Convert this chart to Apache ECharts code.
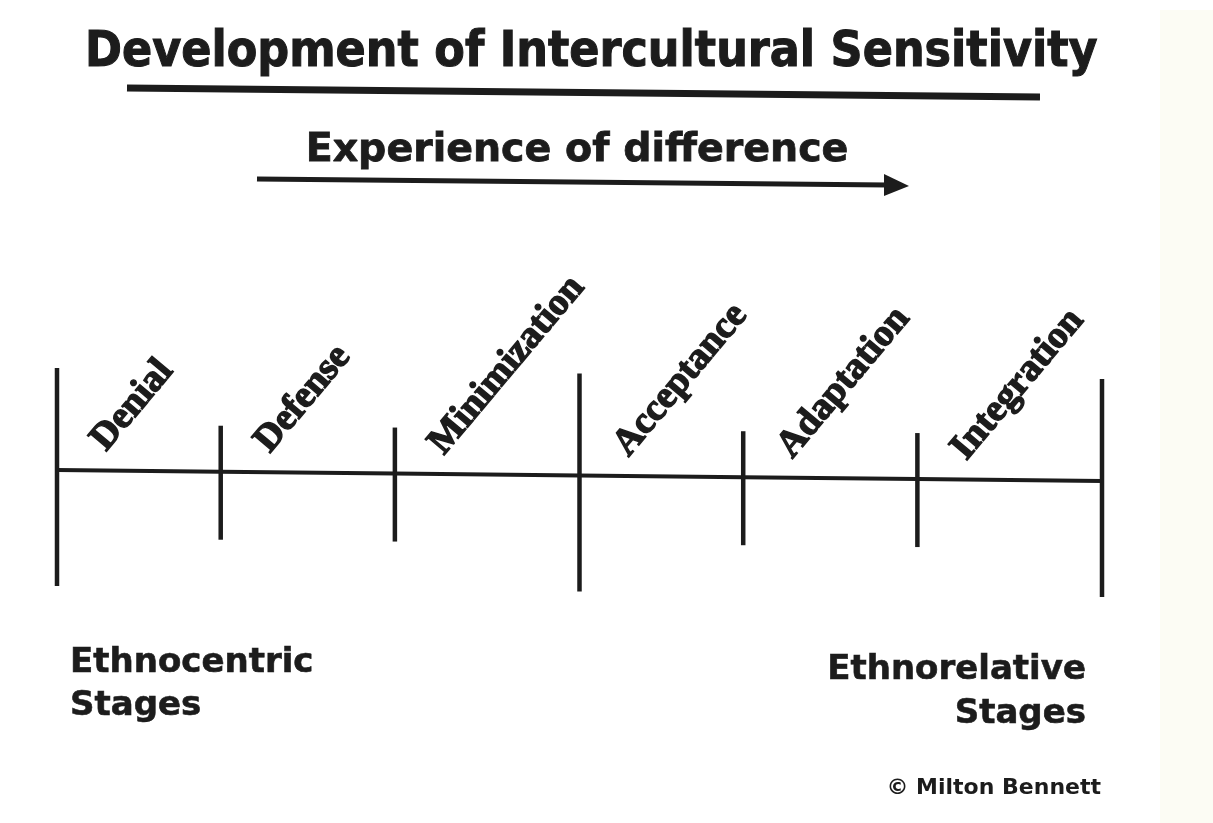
<!DOCTYPE html>
<html>
<head>
<meta charset="utf-8">
<script src="https://cdn.jsdelivr.net/npm/echarts@6/dist/echarts.min.js"></script>
<style>html,body{margin:0;padding:0;background:#fff;}#c{width:1213px;height:823px;}</style>
</head>
<body>
<div id="c"></div>
<script>
// ---- data ----
var stages = ['Denial', 'Defense', 'Minimization', 'Acceptance', 'Adaptation', 'Integration'];
var boundaries = [0, 0.94, 1.94, 3.0, 3.94, 4.94, 6.0];      // stage boundaries along the scale
var boundaryKind = ['major', 'minor', 'minor', 'major', 'minor', 'minor', 'major'];
var groupLabels = ['Ethnocentric\nStages', 'Ethnorelative\nStages'];
var titleText = 'Development of Intercultural Sensitivity';
var axisText = 'Experience of difference';
var creditText = '\u00A9 Milton Bennett';

// ---- styling constants ----
var INK = '#1c1c1c';
var baseStart = 10, baseEnd = -1;   // slight scan tilt of the baseline (y units)
function baseY(x) { return baseStart + (baseEnd - baseStart) * x / 6; }
var tickLen = { major: { up: 102, down: 116 }, minor: { up: 46, down: 68 } };

var chart = echarts.init(document.getElementById('c'));

var baseData = boundaries.map(function (b) { return [b, baseY(b)]; });
var tickData = boundaries.map(function (b, i) { return [b, baseY(b), boundaryKind[i]]; });
var labelData = stages.map(function (s, i) { return [boundaries[i], baseY(boundaries[i]), s]; });

chart.setOption({
  backgroundColor: '#ffffff',
  animation: false,
  title: {
    text: titleText,
    left: 80,
    top: 23,
    textStyle: { fontFamily: 'DejaVu Sans Condensed', fontWeight: 'bold', fontSize: 49.5, color: INK,
                 textBorderColor: INK, textBorderWidth: 1 }
  },
  grid: { left: 57, right: 111, top: 360, bottom: 223 },
  xAxis: { type: 'value', min: 0, max: 6, show: false },
  yAxis: { type: 'value', min: -120, max: 120, show: false },
  graphic: [
    { type: 'rect', shape: { x: 1160, y: 10, width: 53, height: 813 }, style: { fill: '#fcfcf4' }, z: -10 },
    { type: 'line', shape: { x1: 127, y1: 88, x2: 1040, y2: 97 }, style: { stroke: INK, lineWidth: 7 } },
    { type: 'text', x: 577, y: 151, style: { text: axisText, fontFamily: 'DejaVu Sans', fontWeight: 'bold', fontSize: 39.5, fill: INK, align: 'center', verticalAlign: 'middle', stroke: INK, lineWidth: 0.8 } },
    { type: 'line', shape: { x1: 257, y1: 179, x2: 888, y2: 185 }, style: { stroke: INK, lineWidth: 5 } },
    { type: 'polygon', shape: { points: [[884, 174], [909, 186], [884, 196]] }, style: { fill: INK } },
    { type: 'text', x: 70, y: 642, style: { text: groupLabels[0], fontFamily: 'DejaVu Sans', fontWeight: 'bold', fontSize: 34, lineHeight: 43, fill: INK, align: 'left', verticalAlign: 'top', stroke: INK, lineWidth: 0.6 } },
    { type: 'text', x: 1086, y: 648, style: { text: groupLabels[1], fontFamily: 'DejaVu Sans', fontWeight: 'bold', fontSize: 34, lineHeight: 44, fill: INK, align: 'right', verticalAlign: 'top', stroke: INK, lineWidth: 0.6 } },
    { type: 'text', x: 1101, y: 788, style: { text: creditText, fontFamily: 'DejaVu Sans', fontWeight: 'bold', fontSize: 22, fill: INK, align: 'right', verticalAlign: 'middle' } }
  ],
  series: [
    {
      type: 'line', data: baseData, symbol: 'none', silent: true,
      lineStyle: { color: INK, width: 4 }
    },
    {
      type: 'custom', data: tickData, silent: true,
      renderItem: function (params, api) {
        var x = api.value(0), y = api.value(1), k = tickData[params.dataIndex][2];
        var p = api.coord([x, y]);
        return {
          type: 'line',
          shape: { x1: p[0], y1: p[1] - tickLen[k].up, x2: p[0], y2: p[1] + tickLen[k].down },
          style: { stroke: INK, lineWidth: 4.5 }
        };
      }
    },
    {
      type: 'custom', data: labelData, silent: true,
      renderItem: function (params, api) {
        var p = api.coord([api.value(0), api.value(1)]);
        return {
          type: 'text',
          x: p[0] + 56, y: p[1] - 12,
          rotation: 50 * Math.PI / 180,
          style: {
            text: labelData[params.dataIndex][2],
            fontFamily: 'Liberation Serif', fontWeight: 'bold', fontSize: 38,
            fill: INK, align: 'left', verticalAlign: 'bottom',
            stroke: INK, lineWidth: 1.4
          }
        };
      }
    }
  ]
});
</script>
</body>
</html>
